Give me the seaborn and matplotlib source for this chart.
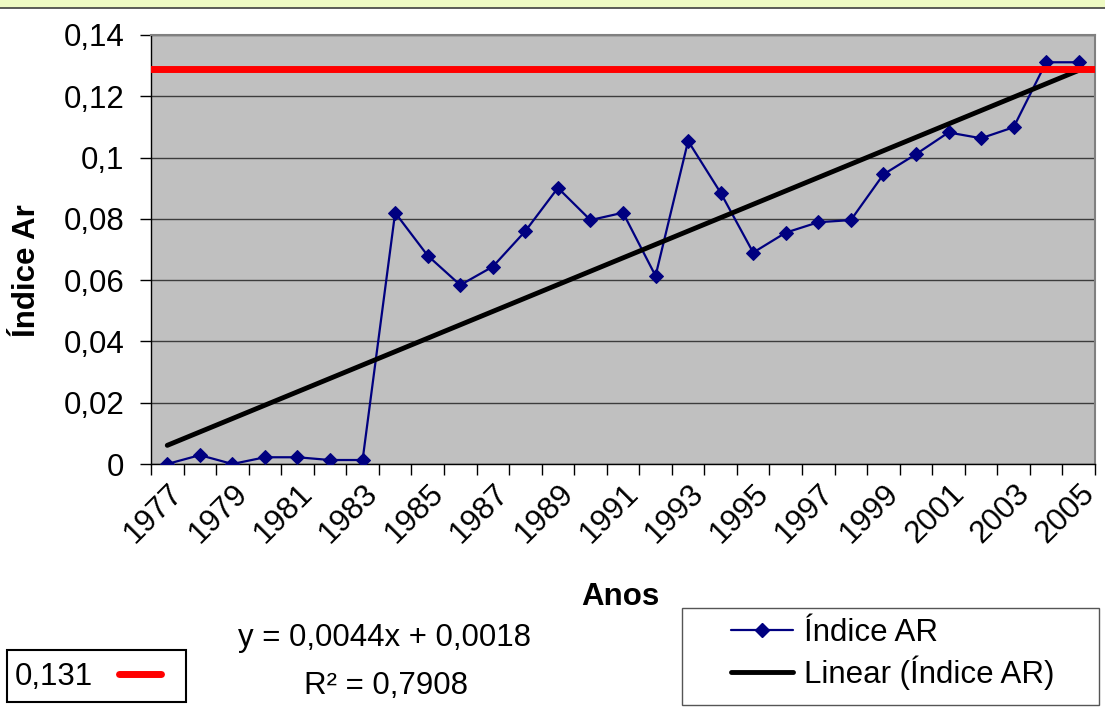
import numpy as np
import matplotlib
matplotlib.use('Agg')
import matplotlib.pyplot as plt
from matplotlib.patches import Rectangle
from matplotlib.lines import Line2D
from matplotlib.ticker import FuncFormatter
from matplotlib.transforms import ScaledTranslation
import seaborn as sns

# Data
years = list(range(1977, 2006))
indice_ar = [0.0, 0.0029, 0.0, 0.0022, 0.0022, 0.0013, 0.0013,
             0.0820, 0.0680, 0.0584, 0.0644, 0.0760, 0.0901, 0.0796,
             0.0820, 0.0614, 0.1054, 0.0885, 0.0690, 0.0755, 0.0789,
             0.0796, 0.0945, 0.1011, 0.1082, 0.1063, 0.1099, 0.1311,
             0.1311]
label_years = list(range(1977, 2006, 2))
ref_level = 0.129
ref_label = '0,131'
eq_text = 'y = 0,0044x + 0,0018'
r2_text = 'R² = 0,7908'

sns.set_style('white')
plt.rcParams['font.family'] = ['Liberation Sans', 'DejaVu Sans']
plt.rcParams['text.color'] = 'black'
plt.rcParams['axes.labelcolor'] = 'black'
plt.rcParams['xtick.color'] = 'black'
plt.rcParams['ytick.color'] = 'black'
FS = 22.5
NAVY = '#000080'

W, H = 1105, 719


def fx(px):
    return px / W


def fy(py):
    return 1 - py / H


fig = plt.figure(figsize=(W / 100, H / 100), dpi=100)
ax = fig.add_axes([fx(151), fy(464), (1095 - 151) / W, (464 - 35) / H])

# top banner
fig.add_artist(Rectangle((0, fy(8)), 1, 8 / H, transform=fig.transFigure,
                         facecolor='#eefac3', edgecolor='none'))
fig.add_artist(Line2D([0, 1], [fy(8), fy(8)], transform=fig.transFigure,
                      color='#404040', lw=1.2))

ax.set_facecolor('#c0c0c0')

sns.lineplot(x=years, y=indice_ar, color=NAVY, lw=1.6, marker='D',
             markersize=7, markeredgecolor=NAVY, ax=ax, zorder=3)
sns.regplot(x=years, y=indice_ar, scatter=False, ci=None, color='black',
            line_kws=dict(lw=3.5, zorder=4), ax=ax)
ref_line = ax.axhline(ref_level, color='red', lw=5, zorder=5)

ax.set_xlim(1976.5, 2005.5)
ax.set_ylim(0, 0.14)
ax.set_yticks(np.arange(0, 0.141, 0.02))
ax.yaxis.set_major_formatter(FuncFormatter(
    lambda v, p: f'{v:.2f}'.rstrip('0').rstrip('.').replace('.', ',')))
ax.set_xticks(label_years)
ax.set_xticklabels([str(y) for y in label_years])
ax.set_xticks(np.arange(1976.5, 2006, 1), minor=True)

ax.tick_params(axis='y', direction='out', length=8, width=1, color='black',
               pad=11, labelsize=FS, left=True)
ax.tick_params(axis='x', which='major', length=0, pad=18, labelsize=FS,
               bottom=True)
ax.tick_params(axis='x', which='minor', direction='out', length=8, width=1,
               color='black', bottom=True)
shift = ScaledTranslation(0.11, 0, fig.dpi_scale_trans)
for lbl in ax.get_xticklabels():
    lbl.set_rotation(45)
    lbl.set_ha('right')
    lbl.set_va('center')
    lbl.set_rotation_mode('anchor')
    lbl.set_transform(lbl.get_transform() + shift)

ax.yaxis.grid(True, color='#3c3c3c', lw=1)
ax.xaxis.grid(False)
ax.set_axisbelow(True)

for side in ['top', 'right']:
    ax.spines[side].set_color('#808080')
    ax.spines[side].set_linewidth(1.5)
for side in ['left', 'bottom']:
    ax.spines[side].set_color('black')
    ax.spines[side].set_linewidth(1)

ax.set_ylabel('Índice Ar', fontsize=FS, fontweight='bold')
ax.yaxis.set_label_coords(-0.115, 0.45)
ax.set_xlabel('Anos', fontsize=FS, fontweight='bold')
ax.xaxis.set_label_coords(0.497, -0.275)

# trendline equation
fig.text(fx(385), fy(638), eq_text, ha='center', va='center', fontsize=FS)
fig.text(fx(386), fy(686), r2_text, ha='center', va='center', fontsize=FS)

# small box with the reference value
fig.add_artist(Rectangle((fx(7), fy(702)), (186 - 7) / W, 52 / H,
                         transform=fig.transFigure, fill=False,
                         edgecolor='black', lw=1.5))
ref_handle = Line2D([], [], color='red', lw=5)
fig.legend([ref_handle], [ref_label], loc='center left',
           bbox_to_anchor=(fx(15), fy(677)), frameon=False,
           borderpad=0, borderaxespad=0, markerfirst=False,
           handlelength=1.35, handletextpad=0.83, fontsize=FS)

# series legend
fig.add_artist(Rectangle((fx(682), fy(705)), (1099 - 682) / W, 97 / H,
                         transform=fig.transFigure, fill=False,
                         edgecolor='#555555', lw=1))
h1 = Line2D([], [], color=NAVY, lw=1.6, marker='D', markersize=7,
            markeredgecolor=NAVY)
h2 = Line2D([], [], color='black', lw=3.5)
fig.legend([h1, h2], ['Índice AR', 'Linear (Índice AR)'], loc='center',
           bbox_to_anchor=(fx(893), fy(654)), frameon=False,
           borderpad=0, borderaxespad=0, handlelength=1.98,
           handletextpad=0.35, labelspacing=0.22, fontsize=FS)

fig.savefig('out.png', dpi=100)
